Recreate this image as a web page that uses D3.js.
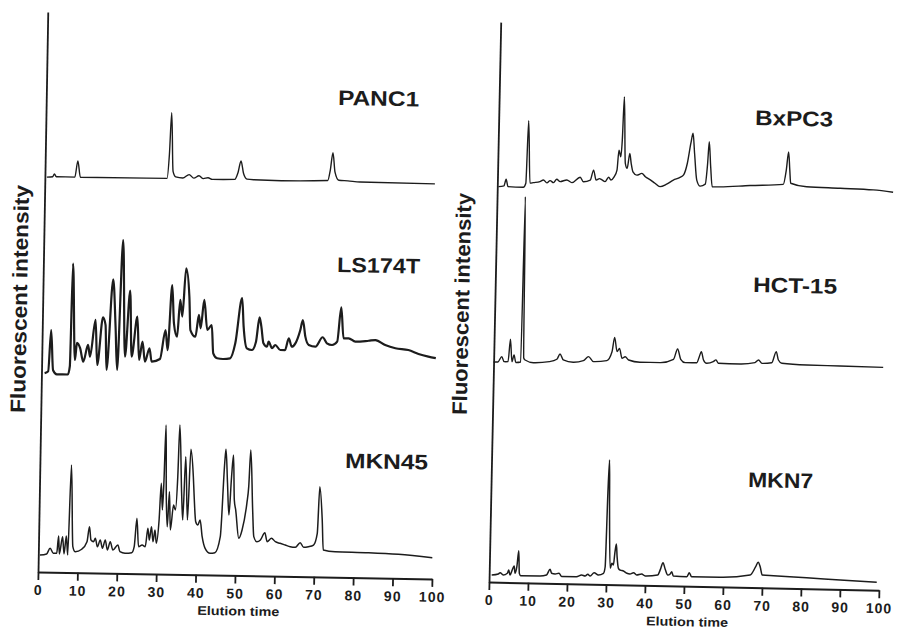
<!DOCTYPE html>
<html>
<head>
<meta charset="utf-8">
<script src="https://cdnjs.cloudflare.com/ajax/libs/d3/7.8.5/d3.min.js"></script>
<style>
body { margin: 0; background: #fff; }
svg { display: block; font-family: "Liberation Sans", Arial, sans-serif; font-weight: bold; }
</style>
</head>
<body>
<svg id="chart"></svg>
<script>
// Chromatograms: [elution time, fluorescent intensity (arbitrary units)]
const PANC1 = [[0.5,0],[2.0,0.5],[2.4,3.3],[2.9,0.5],[7.6,0.5],[8.3,16.7],[9.0,0.5],[31.0,0.8],[31.5,25],[31.9,66.6],[32.5,8],[33.2,2.5],[35,1.5],[36.6,5],[37.8,1.5],[39.1,4],[40.2,1.2],[41.4,2.2],[42.5,0.6],[48.2,1],[49.0,8],[49.7,19.5],[50.4,7],[51.3,1.5],[53,1],[60,0.5],[71.8,1.5],[72.4,12],[73.0,29.4],[73.6,10],[74.6,2],[76.9,1.5],[80,0.5],[99,0]];

const LS174T = [[0.8,1],[1.7,3],[2.27,44],[2.93,4],[3.9,0],[6.7,0],[7.17,8.5],[7.52,111],[8.44,14.6],[8.87,31.7],[9.7,26.5],[10.55,13],[11.7,29.9],[12.24,18.2],[13.5,55],[14.1,10],[15.37,57.8],[16.05,50.2],[16.48,5.2],[17.79,96],[18.6,48.6],[19.18,5.4],[20.14,135.4],[21.13,18.8],[22.15,84.9],[22.8,19],[24.1,59],[24.7,15.8],[25.5,34.1],[26.2,14.2],[27.3,27.6],[27.9,14.3],[30,17.1],[31.3,46.1],[31.9,26.2],[32.8,91.3],[33.4,53],[34.25,39.7],[34.9,76.5],[35.5,59.9],[36.26,108.3],[37.2,79.9],[37.6,46.6],[38.9,40],[39.7,61.8],[40.2,48.5],[41,76.9],[41.9,46.9],[43,52],[43.5,23.7],[44.5,18.8],[46,18.2],[47.8,19],[49.05,34.1],[50.6,79.3],[51.1,50.9],[52,29.3],[53.3,27.7],[54.3,36.1],[55.1,60.5],[55.6,51.2],[56.2,34.6],[57.1,31.3],[57.5,36.3],[58.4,29.8],[59.2,33.1],[60.5,28.2],[61.7,28.2],[62.6,40],[63.4,31.7],[64.3,35.1],[65.5,48.6],[66.1,58.6],[66.8,42],[67.7,33.7],[69.4,32.1],[71.2,41.7],[72.3,35.7],[73.6,34.1],[74.9,37.5],[75.8,72],[76.5,41],[77.8,41.1],[79.5,37.8],[82.9,39],[84.6,39.8],[87.1,35],[89.7,31.9],[93,30.4],[95.6,26.6],[98.1,24.1],[100,22.7]];

const MKN45 = [[0.4,0],[2.1,1.2],[2.97,6.9],[3.8,2],[4.67,2],[5.08,19.4],[5.33,1.4],[6.09,18.7],[6.52,1.5],[7.03,19.5],[7.46,0.5],[8.02,90.6],[8.73,8.9],[9.31,4],[11,6.5],[12.3,14.1],[12.87,29.2],[13.3,15.9],[13.96,14.3],[14.4,17.7],[14.97,9.3],[15.66,16.1],[16.24,7.8],[16.93,16.2],[17.5,6.2],[18.2,14.6],[18.9,6.3],[20.15,11.4],[20.7,4.7],[22,3.2],[23.7,3.9],[24.3,10],[24.87,38.4],[25.4,10.1],[26.3,11.8],[27.1,10.2],[27.7,28.6],[28.1,16.9],[28.6,30.3],[29.04,15.3],[29.5,27],[29.9,13.8],[30.5,37.1],[30.9,73.8],[31.3,47.2],[31.55,73.9],[31.85,132.2],[32.2,63.9],[32.6,30.5],[33,65.6],[33.4,27.3],[34.1,52.3],[34.6,47.4],[35.05,80.7],[35.35,132.4],[36.1,64.2],[36.5,37.5],[36.98,100.9],[37.7,37.6],[38.26,108.3],[39,81],[39.3,61],[39.8,36],[40.35,32.8],[40.9,37.8],[41.5,21.2],[42.3,9.6],[43.6,4.7],[44.8,5.4],[46.1,21.5],[46.9,95],[47.16,109],[47.7,75],[48.2,43.3],[48.7,81.6],[49.1,103.4],[49.5,58.4],[49.9,48.4],[50.8,20.2],[51.6,28.6],[52.7,55.3],[53.1,72],[53.46,108.7],[54.2,48.7],[54.6,22.1],[55.4,17.1],[56.3,18.9],[57.4,26.2],[58,17.3],[59.1,20.8],[60.1,17.4],[61.3,15.9],[62.6,14.3],[63.9,12.7],[65.2,12.2],[66.4,16.9],[67.3,12.3],[68.5,13],[69.8,14.8],[70.7,26.6],[71.14,73.2],[71.9,40],[72.3,10],[75.3,8.5],[83.8,8.1],[91.4,7],[100,4.2]];

const BXPC3 = [[0.3,0.5],[1.7,1.3],[2.23,8.1],[2.74,0.7],[6.67,0.4],[7.3,4.5],[7.69,67.1],[8.38,4.6],[9.2,5.2],[10.9,6.4],[11.8,8.1],[12.7,5.3],[13.5,7.6],[14.4,5.6],[15.2,9.1],[16.1,6.8],[17.8,8.6],[19.1,6],[21.2,11.6],[22.05,7.1],[23.8,8.9],[24.6,19],[25.3,9.1],[26.15,10.6],[26.8,9.4],[27.6,7.7],[28.5,12.2],[29.1,9.5],[29.9,12.7],[30.6,19.5],[31,39.5],[31.5,32.9],[31.8,49.6],[32.1,92.9],[32.7,26.5],[33.2,21.5],[33.8,36.5],[34.2,26.6],[34.7,18.1],[35.7,14.9],[37,16.7],[37.9,13.5],[39.2,10.4],[40.4,7.1],[41.7,3.9],[43.4,6.5],[45.1,10.7],[46.8,13.5],[47.7,16.1],[48.6,27.8],[49.4,47.9],[49.9,57.9],[50.4,37.9],[51.1,11.2],[52,5.2],[53.3,7.3],[53.8,28.1],[54.1,49.7],[54.6,24.8],[55.1,4.8],[57.1,4.9],[64.8,6.9],[73.3,8.7],[74,23],[74.5,41.3],[74.9,23.1],[75.2,10],[79.3,6.8],[87.9,6],[96.4,5.1],[101.5,3.1]];

const HCT15 = [[0,0],[1.1,0.2],[2.07,5.6],[2.67,0.6],[3.7,0.7],[4.2,23.1],[4.7,0.8],[5.2,7.5],[5.7,0],[6.95,0.6],[7.25,166],[7.7,4.7],[8.05,2.7],[10.2,0.2],[14.3,1.6],[16.2,4.1],[17,9.5],[17.85,3.6],[20.4,1.5],[23,3.3],[24.3,7.4],[25.6,2.5],[29,3.8],[30.3,12.8],[30.9,27.2],[31.6,13],[32.2,16.3],[32.9,6.5],[33.7,8.1],[34.6,4.9],[37.5,2.9],[42.7,2.9],[46.1,6.5],[47.1,16.9],[47.95,6.7],[49.1,3.4],[52.1,3.6],[52.7,9.7],[53.2,14.7],[53.8,6.5],[54.6,3.2],[56.3,5],[57,6.8],[57.6,3.5],[63.2,3.2],[67,4.9],[67.9,7.6],[68.8,4.3],[71.3,5.1],[72.4,16.2],[73,8],[73.9,4.8],[80.3,3.6],[88.8,3.3],[99.9,2.8]];

const MKN7 = [[0.65,0],[2.35,1.2],[2.8,2.5],[3.6,0.3],[4.65,2.1],[5,5.4],[5.35,0.4],[6.04,7.2],[6.37,9.5],[6.63,2.2],[7.06,8.9],[7.47,24.9],[7.73,2.3],[8.09,0],[13,0.1],[14.7,1.2],[15.6,7],[16,3],[16.9,2.4],[17.9,3.2],[18.6,0],[22.4,0.1],[23.7,1.9],[24.6,1],[25.3,2.8],[25.9,1.1],[26.9,4.5],[28,2.3],[29.3,4.1],[29.7,10.7],[30,84.2],[30.25,117.5],[30.5,70.8],[31,9.2],[31.4,14.3],[31.8,12.6],[32.1,24.3],[32.45,33.6],[32.7,21],[33.1,9.4],[33.55,7.7],[34.4,6.8],[35.3,4.6],[36.1,4],[37,5.3],[37.8,3.1],[39.1,4.2],[40,2.3],[43.2,3.5],[43.9,9.5],[44.5,16],[45.1,9.5],[45.8,3.7],[46.4,4.8],[46.8,7.1],[47.2,2.9],[50.7,2.4],[51.3,6.5],[51.9,2.5],[59.2,2.5],[66.9,5.4],[68.25,13.6],[68.9,18.3],[69.45,13.7],[70,5.7],[72.9,5.2],[81.4,3.9],[90,2.3],[99.4,0.8]];

const TIME_TICKS = [0, 10, 20, 30, 40, 50, 60, 70, 80, 90, 100];

// Canvas settings
const WIDTH = 902;
const HEIGHT = 629;
const INK = '#1c1c1c';

const svg = d3.select('svg#chart').attr('width', WIDTH).attr('height', HEIGHT);
svg.append('rect').attr('width', WIDTH).attr('height', HEIGHT).attr('fill', '#fff');

// Each panel sits at the corner of its axes; the scan is turned a little clockwise.
// base = height of the trace's baseline above the time axis, label = name position on the page,
// w = printed width of the name in the scan
const panels = [
    {x: 38, y: 572, angle: 1.0, len: 394, height: 560, yLabel: [27, 299], yLabelW: 228,
     traces: [
        {name: 'PANC1', data: PANC1, base: 395, stroke: 1.4, label: [338, 105], w: 81},
        {name: 'LS174T', data: LS174T, base: 198, stroke: 2.2, label: [337, 272], w: 83},
        {name: 'MKN45', data: MKN45, base: 17, stroke: 1.5, label: [345, 468], w: 83}
    ]},
    {x: 489, y: 582, angle: 1.2, len: 390, height: 560, yLabel: [469, 304], yLabelW: 222,
     traces: [
        {name: 'BxPC3', data: BXPC3, base: 395, stroke: 1.4, label: [755, 125], w: 78},
        {name: 'HCT-15', data: HCT15, base: 220, stroke: 1.4, label: [753, 292], w: 84},
        {name: 'MKN7', data: MKN7, base: 7, stroke: 1.5, label: [748, 487], w: 65}
    ]}
];

panels.forEach(p => {
    const g = svg.append('g')
        .attr('transform', `translate(${p.x},${p.y}) rotate(${p.angle})`);

    const x = d3.scaleLinear().domain([0, 100]).range([0, p.len]);
    const yAxis = d3.scaleLinear().domain([0, 1]).range([0, -p.height]);

    // time axis
    const xa = g.append('g')
        .call(d3.axisBottom(x).tickValues(TIME_TICKS).tickSize(8)
            .tickSizeOuter(0).tickPadding(5).tickFormat(d3.format('d')));
    xa.select('.domain').attr('stroke', INK).attr('stroke-width', 2);
    xa.selectAll('.tick line').attr('stroke', INK).attr('stroke-width', 1.8);
    xa.selectAll('.tick text')
        .attr('fill', INK)
        .style('font-size', '14px')
        .style('font-weight', 'bold')
        .style('font-family', '"Liberation Sans", Arial, sans-serif')
        .style('letter-spacing', '1px');

    // intensity axis (no ticks)
    const ya = g.append('g').call(d3.axisLeft(yAxis).tickValues([]).tickSizeOuter(0));
    ya.select('.domain').attr('stroke', INK).attr('stroke-width', 1.8);

    g.append('text')
        .attr('x', x(51))
        .attr('y', 40)
        .attr('text-anchor', 'middle')
        .attr('textLength', 82)
        .attr('lengthAdjust', 'spacingAndGlyphs')
        .attr('fill', INK)
        .style('font-size', '12.5px')
        .text('Elution time');

    // one line per cell line, lifted to its own baseline
    p.traces.forEach(tr => {
        const y = d3.scaleLinear().domain([0, 100]).range([-tr.base, -tr.base - 100]);
        const line = d3.line()
            .x(d => x(d[0]))
            .y(d => y(d[1]))
            .curve(d3.curveMonotoneX);

        g.append('path')
            .datum(tr.data)
            .attr('d', line)
            .attr('fill', 'none')
            .attr('stroke', INK)
            .attr('stroke-width', tr.stroke)
            .attr('stroke-linejoin', 'round');

        svg.append('text')
            .attr('transform', `translate(${tr.label[0]},${tr.label[1]}) rotate(${p.angle})`)
            .attr('textLength', tr.w)
            .attr('lengthAdjust', 'spacingAndGlyphs')
            .attr('fill', INK)
            .style('font-size', '21px')
            .text(tr.name);
    });

    svg.append('text')
        .attr('transform', `translate(${p.yLabel[0]},${p.yLabel[1]}) rotate(${p.angle - 90})`)
        .attr('text-anchor', 'middle')
        .attr('textLength', p.yLabelW)
        .attr('lengthAdjust', 'spacingAndGlyphs')
        .attr('fill', INK)
        .style('font-size', '21px')
        .text('Fluorescent intensity');
});
</script>
</body>
</html>
